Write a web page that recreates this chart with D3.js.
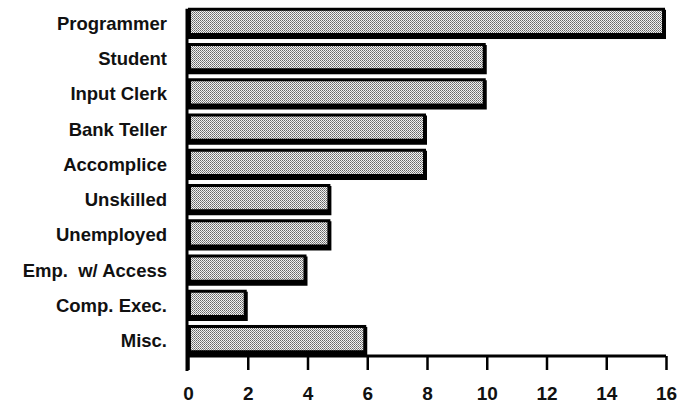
<!DOCTYPE html>
<html>
<head>
<meta charset="utf-8">
<script src="https://cdn.jsdelivr.net/npm/d3@7"></script>
<style>
  body { margin: 0; background: #fff; }
  svg text { font-family: "Liberation Sans", Arial, sans-serif; font-weight: bold; fill: #111; }
</style>
</head>
<body>
<div id="chart"></div>
<script>
const categories = ["Programmer", "Student", "Input Clerk", "Bank Teller", "Accomplice",
  "Unskilled", "Unemployed", "Emp.  w/ Access", "Comp. Exec.", "Misc."];
const counts = [16, 10, 10, 8, 8, 4.8, 4.8, 4, 2, 6];
const tickValues = [0, 2, 4, 6, 8, 10, 12, 14, 16];

const margin = {top: 6, right: 11, bottom: 50, left: 188};
const width = 677 - margin.left - margin.right;
const height = 406 - margin.top - margin.bottom;

const svg = d3.select("#chart")
  .append("svg")
    .attr("width", 677)
    .attr("height", 406);

// dithered grey fill
const defs = svg.append("defs");
const pat = defs.append("pattern")
  .attr("id", "dots")
  .attr("width", 2)
  .attr("height", 2)
  .attr("patternUnits", "userSpaceOnUse");
pat.append("rect").attr("width", 2).attr("height", 2).attr("fill", "#f2f2f2");
pat.append("rect").attr("width", 1).attr("height", 1).attr("fill", "#666");
pat.append("rect").attr("x", 1).attr("y", 1).attr("width", 1).attr("height", 1).attr("fill", "#888");

const g = svg.append("g")
  .attr("transform", `translate(${margin.left},${margin.top})`);

const x = d3.scaleLinear()
  .domain([0, 16])
  .range([0, width]);

const y = d3.scaleBand()
  .domain(categories)
  .range([0, height])
  .paddingInner(0.17)
  .paddingOuter(0.05);

const data = categories.map((c, i) => ({name: c, value: counts[i]}));

// shadow
g.selectAll(".shadow")
  .data(data)
  .enter()
  .append("rect")
    .attr("class", "shadow")
    .attr("x", 0)
    .attr("y", d => y(d.name) + 2)
    .attr("width", d => x(d.value))
    .attr("height", y.bandwidth())
    .attr("fill", "#000");

// bars
g.selectAll(".bar")
  .data(data)
  .enter()
  .append("rect")
    .attr("class", "bar")
    .attr("x", 1.5)
    .attr("y", d => y(d.name) + 1.5)
    .attr("width", d => x(d.value) - 4)
    .attr("height", y.bandwidth() - 4)
    .attr("fill", "url(#dots)")
    .attr("stroke", "#000")
    .attr("stroke-width", 3);

// category labels
g.selectAll(".label")
  .data(data)
  .enter()
  .append("text")
    .attr("class", "label")
    .attr("x", -21)
    .attr("y", d => y(d.name) + y.bandwidth() / 2 + 1)
    .attr("dy", "0.35em")
    .attr("text-anchor", "end")
    .style("font-size", "18.5px")
    .style("white-space", "pre")
    .text(d => d.name);

// y axis line
g.append("line")
  .attr("x1", -1).attr("x2", -1)
  .attr("y1", y(categories[0]) + 1)
  .attr("y2", height + 15)
  .attr("stroke", "#000")
  .attr("stroke-width", 3);

// x axis
const xAxis = g.append("g")
  .attr("transform", `translate(0,${height})`)
  .call(d3.axisBottom(x).tickValues(tickValues).tickSize(14).tickPadding(17));

xAxis.select(".domain")
  .attr("d", `M-1,0H${width}`)
  .attr("stroke-width", 3);
xAxis.selectAll(".tick line")
  .attr("stroke-width", 2.5);
xAxis.selectAll(".tick text")
  .style("font-size", "19px")
  .style("font-family", "Liberation Sans, Arial, sans-serif")
  .style("font-weight", "bold")
  .attr("fill", "#111");
</script>
</body>
</html>
